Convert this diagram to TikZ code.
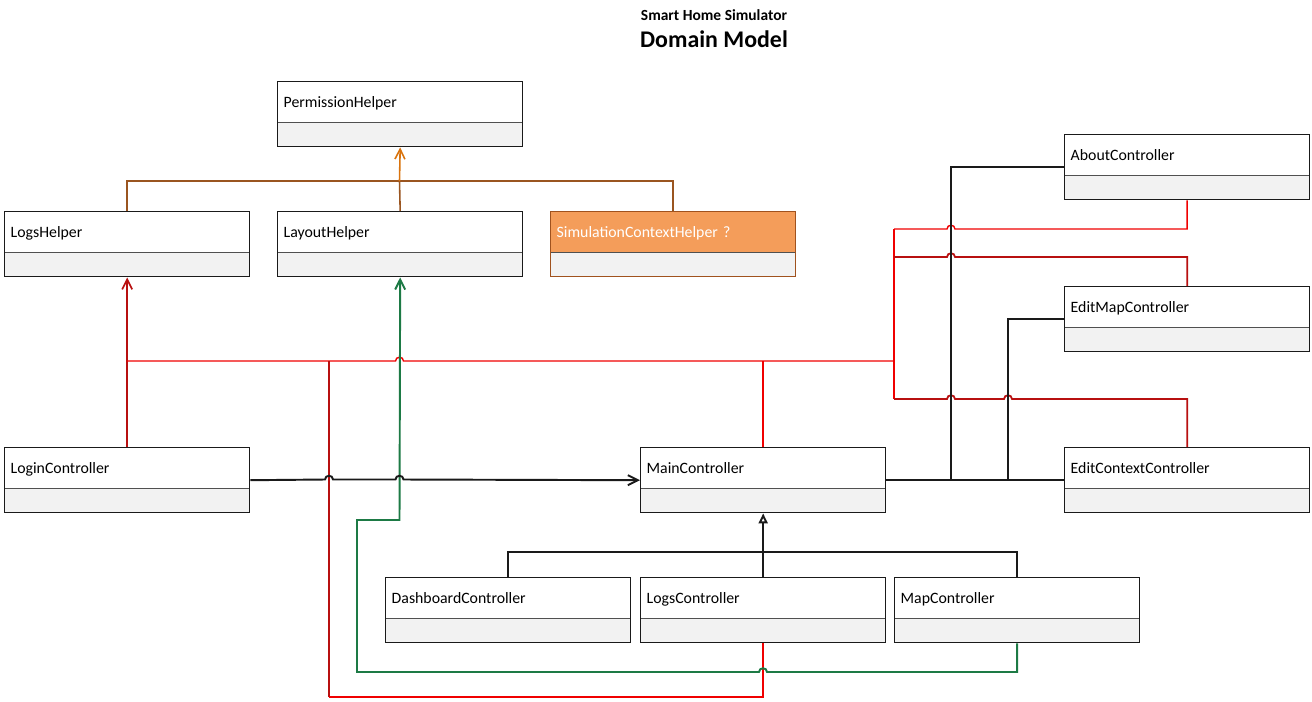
\documentclass[tikz,border=0pt]{standalone}
\usepackage{fontspec}
\setmainfont{Carlito}
\usepackage{xcolor}
\usepackage{tikz}
\usetikzlibrary{arrows.meta,calc}
\definecolor{boxline}{HTML}{1A1A1A}
\definecolor{bodygray}{HTML}{F2F2F2}
\definecolor{divline}{HTML}{505050}
\definecolor{simfill}{HTML}{F49D5A}
\definecolor{simborder}{HTML}{A0521E}
\definecolor{orangeln}{HTML}{D9730D}
\definecolor{brownln}{HTML}{9A5520}
\definecolor{redln}{HTML}{F00000}
\definecolor{darkredln}{HTML}{B81010}
\definecolor{greenln}{HTML}{1D7A45}
\tikzset{
  classbox/.style={draw=boxline, line width=0.8pt, fill=white, anchor=north west,
    minimum width=4.9cm, minimum height=1.3cm, inner xsep=0.12cm, inner ysep=0pt,
    text width=4.66cm, align=left, text height=0.2cm, text depth=0.46cm,
    font=\fontsize{9}{11}\selectfont,
    path picture={
      \fill[bodygray] ([yshift=0.48cm]path picture bounding box.south west)
        rectangle (path picture bounding box.south east);
      \draw[divline, line width=0.8pt] ([yshift=0.48cm]path picture bounding box.south west)
        -- ([yshift=0.48cm]path picture bounding box.south east);
    }},
  simbox/.style={draw=simborder, fill=simfill, text=white},
  subtitle/.style={font=\bfseries\fontsize{8.8}{10}\selectfont},
  title/.style={font=\bfseries\fontsize{13.6}{16}\selectfont},
  blackline/.style={draw=boxline, line width=1.1pt},
  redline/.style={draw=redln, line width=0.8pt},
  darkredline/.style={draw=darkredln, line width=1pt},
  greenline/.style={draw=greenln, line width=1.1pt},
  orangeline/.style={draw=orangeln, line width=0.9pt},
  brownline/.style={draw=brownln, line width=0.9pt},
  barb/.style={-{Straight Barb[length=2mm,width=2mm]}},
  inherit/.style={-{Triangle[open,length=2mm,width=1.8mm,fill=white]}}
}

\begin{document}
\begin{tikzpicture}[x=0.02cm,y=-0.02cm]
  \useasboundingbox (0,0) rectangle (1312,701);

  % title
  \node[subtitle] (subtitle) at (714,15) {Smart Home Simulator};
  \node[title] (title) at (714,39) {Domain Model};

  % classes
  \foreach \nm/\x/\y/\txt in {perm/277/81/PermissionHelper, logsh/4/211/LogsHelper,
      layouth/277/211/LayoutHelper, about/1064/134/AboutController,
      editmap/1064/286/EditMapController, login/4/447/LoginController,
      main/640/447/MainController, editctx/1064/447/EditContextController,
      dash/385/577/DashboardController, logsc/640/577/LogsController,
      mapc/894/577/MapController}
    \node[classbox] (\nm) at (\x,\y) {\txt};
  \node[classbox, simbox] (simh) at (550,211) {SimulationContextHelper ?};

  % helpers -> PermissionHelper
  \coordinate (permj) at (399.5,181);
  \draw[brownline] (logsh.north) |- (permj) -| (simh.north);
  \draw[brownline] (layouth.north) -- (permj);
  \draw[orangeline, barb] (permj) -- (perm.south);

  % LogsHelper links
  \draw[darkredline, barb] (login.north) -- (logsh.south);
  \coordinate (rl) at (126.5,361);
  \coordinate (rr) at (894,361);
  \draw[redline] (rl) -- (395.5,361) .. controls (395.5,356) and (403.5,356) .. (403.5,361) -- (rr);
  \draw[redline] (894,229) -- (894,399);
  \draw[redline] (894,229) -- (947,229) .. controls (947,224) and (955,224) .. (955,229) -| (about.south);
  \draw[darkredline] (894,257) -- (947,257) .. controls (947,252) and (955,252) .. (955,257) -| (editmap.north);
  \draw[darkredline] (894,399) -- (947,399) .. controls (947,394) and (955,394) .. (955,399)
    -- (1004,399) .. controls (1004,394) and (1012,394) .. (1012,399) -| (editctx.north);
  \draw[redline] (main.north) -- (main.north |- rr);
  \draw[darkredline] (329,361) -- (329,697);
  \draw[redline] (329,697) -| (logsc.south);

  % MapController -> LayoutHelper
  \draw[greenline, barb] (mapc.south) |- (767,672) .. controls (767,667) and (759,667) .. (759,672)
    -- (357,672) |- (399.5,520) -- (layouth.south);

  % controllers
  \draw[blackline, barb] (login.east) -- (325,479.5) .. controls (325,474.5) and (333,474.5) .. (333,479.5)
    -- (395.5,479.5) .. controls (395.5,474.5) and (403.5,474.5) .. (403.5,479.5) -- (main.west);
  \draw[blackline] (main.east) -- (editctx.west);
  \draw[blackline] (951,479.5) |- (about.west);
  \draw[blackline] (1008,479.5) |- (editmap.west);
  \draw[blackline, inherit] (logsc.north) -- (main.south);
  \draw[blackline] (dash.north) -- ++(0,-25) -| (mapc.north);
\end{tikzpicture}
\end{document}
